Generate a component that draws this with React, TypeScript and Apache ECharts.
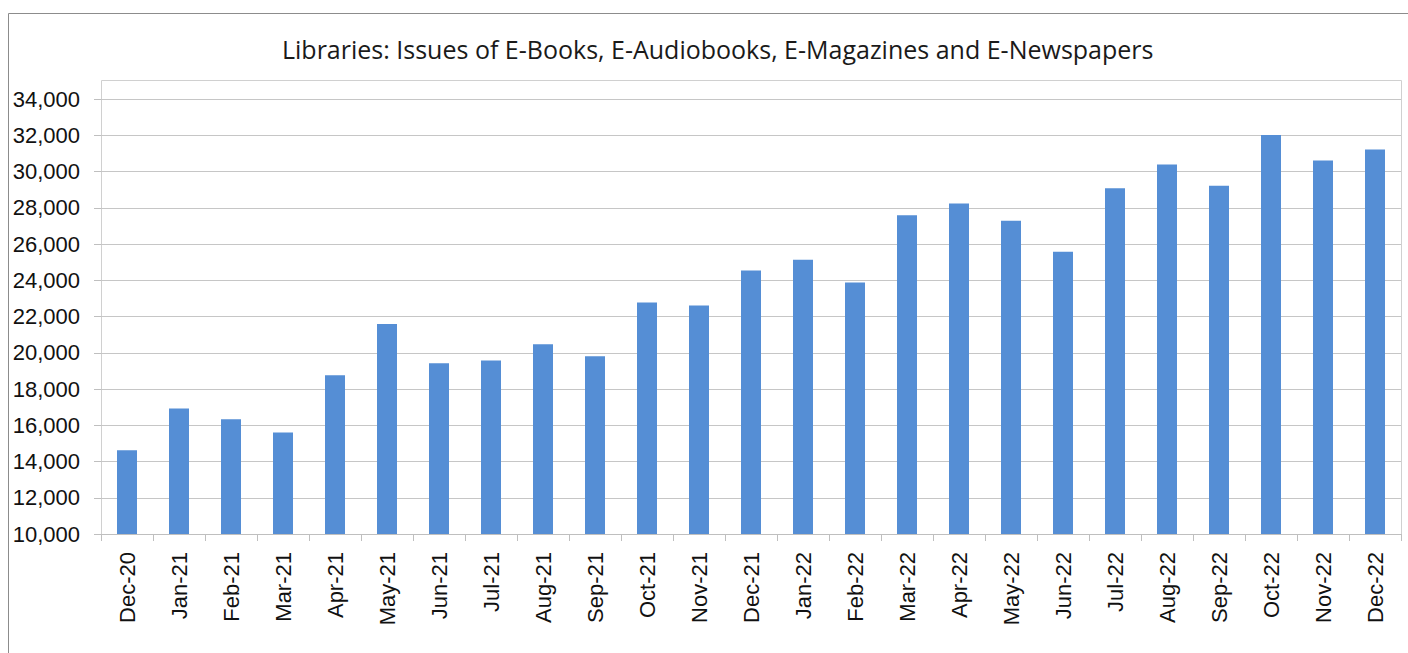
import React, { useEffect, useRef } from "react";
import * as echarts from "echarts";

const categories = [
  "Dec-20", "Jan-21", "Feb-21", "Mar-21", "Apr-21", "May-21", "Jun-21",
  "Jul-21", "Aug-21", "Sep-21", "Oct-21", "Nov-21", "Dec-21",
  "Jan-22", "Feb-22", "Mar-22", "Apr-22", "May-22", "Jun-22",
  "Jul-22", "Aug-22", "Sep-22", "Oct-22", "Nov-22", "Dec-22",
];

const issues = [
  14620, 16920, 16330, 15600, 18760, 21580, 19420,
  19570, 20470, 19810, 22770, 22610, 24540,
  25130, 23880, 27580, 28240, 27280, 25570,
  29070, 30390, 29220, 32010, 30610, 31220,
];

const yMin = 10000;
const yMax = 34000;
const yStep = 2000;

const titleText = "Libraries: Issues of E-Books, E-Audiobooks, E-Magazines and E-Newspapers";

export default function App() {
  const ref = useRef<HTMLDivElement>(null);

  useEffect(() => {
    document.body.style.margin = "0";
    const chart = echarts.init(ref.current!, null, { renderer: "svg" });
    const labelFont = "'Liberation Sans', Arial, sans-serif";
    chart.setOption({
      animation: false,
      backgroundColor: "#ffffff",
      title: {
        text: titleText,
        left: 277,
        top: 31,
        textStyle: {
          fontFamily: "'Open Sans', sans-serif",
          fontSize: 25,
          fontWeight: "normal",
          color: "#1a1a1a",
        },
      },
      graphic: [
        {
          type: "rect",
          shape: { x: 8.5, y: 13.5, width: 1420, height: 660 },
          style: { fill: "none", stroke: "#8c8c8c", lineWidth: 1 },
          silent: true,
          z: -10,
        },
        {
          type: "rect",
          shape: { x: 101.5, y: 80.5, width: 1300, height: 454 },
          style: { fill: "none", stroke: "#d0d0d0", lineWidth: 1 },
          silent: true,
          z: -5,
        },
      ],
      grid: { left: 101, right: 7, top: 99, bottom: 119, containLabel: false },
      xAxis: {
        type: "category",
        data: categories,
        boundaryGap: true,
        axisLine: { show: true, lineStyle: { color: "#bfbfbf", width: 1 } },
        axisTick: { show: true, length: 7, alignWithLabel: false, lineStyle: { color: "#bfbfbf" } },
        axisLabel: {
          rotate: 90,
          interval: 0,
          margin: 18,
          fontFamily: labelFont,
          fontSize: 22,
          color: "#111111",
        },
      },
      yAxis: {
        type: "value",
        min: yMin,
        max: yMax,
        interval: yStep,
        axisLine: { show: false },
        axisTick: { show: true, length: 7, inside: false, lineStyle: { color: "#bfbfbf" } },
        splitLine: { show: true, lineStyle: { color: "#c6c6c6", width: 1 } },
        axisLabel: {
          margin: 21,
          fontFamily: labelFont,
          fontSize: 22,
          color: "#111111",
          formatter: (v: number) => v.toLocaleString("en-US"),
        },
      },
      series: [
        {
          type: "bar",
          data: issues,
          barWidth: 20,
          itemStyle: { color: "#558ed5" },
        },
      ],
    });
    return () => chart.dispose();
  }, []);

  return <div ref={ref} style={{ width: 1408, height: 653 }} />;
}
